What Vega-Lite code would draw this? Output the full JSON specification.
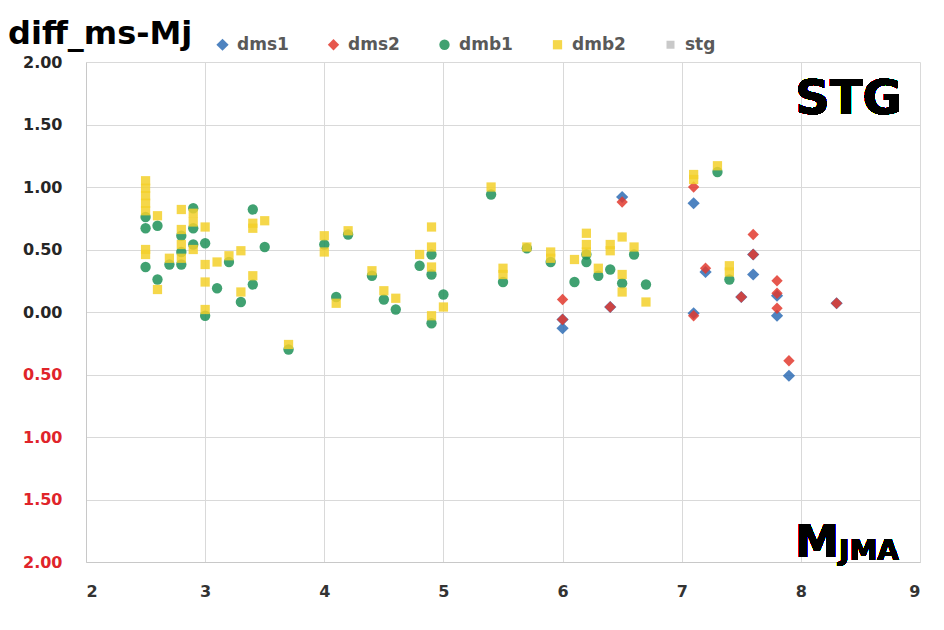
{
  "$schema": "https://vega.github.io/schema/vega-lite/v6.json",
  "width": 834,
  "height": 500,
  "autosize": "none",
  "padding": {"left": 86, "top": 62, "right": 24, "bottom": 68},
  "background": "#ffffff",
  "title": {
    "text": "diff_ms-Mj",
    "anchor": "start",
    "frame": "group",
    "font": "DejaVu Sans",
    "fontSize": 32,
    "fontWeight": "bold",
    "color": "#000000",
    "dx": -78,
    "dy": 33,
    "offset": 18
  },
  "config": {
    "view": {"stroke": null},
    "axis": {
      "gridColor": "#d9d9d9",
      "gridWidth": 1,
      "domainColor": "#c8c8c8",
      "ticks": false,
      "labelFont": "DejaVu Sans",
      "labelFontWeight": "bold",
      "labelFontSize": 15,
      "title": null
    }
  },
  "data": {
    "values": [
      {"series": "dms1", "M": 6.0, "diff": -0.06},
      {"series": "dms1", "M": 6.0, "diff": -0.13},
      {"series": "dms1", "M": 6.4, "diff": 0.04},
      {"series": "dms1", "M": 6.5, "diff": 0.92},
      {"series": "dms1", "M": 7.1, "diff": 0.87},
      {"series": "dms1", "M": 7.1, "diff": -0.01},
      {"series": "dms1", "M": 7.2, "diff": 0.32},
      {"series": "dms1", "M": 7.5, "diff": 0.12},
      {"series": "dms1", "M": 7.6, "diff": 0.46},
      {"series": "dms1", "M": 7.6, "diff": 0.3},
      {"series": "dms1", "M": 7.8, "diff": 0.13},
      {"series": "dms1", "M": 7.8, "diff": -0.03},
      {"series": "dms1", "M": 7.9, "diff": -0.51},
      {"series": "dms1", "M": 8.3, "diff": 0.07},

      {"series": "dms2", "M": 6.0, "diff": 0.1},
      {"series": "dms2", "M": 6.0, "diff": -0.06},
      {"series": "dms2", "M": 6.4, "diff": 0.04},
      {"series": "dms2", "M": 6.5, "diff": 0.88},
      {"series": "dms2", "M": 7.1, "diff": 1.0},
      {"series": "dms2", "M": 7.1, "diff": -0.03},
      {"series": "dms2", "M": 7.2, "diff": 0.35},
      {"series": "dms2", "M": 7.5, "diff": 0.12},
      {"series": "dms2", "M": 7.6, "diff": 0.62},
      {"series": "dms2", "M": 7.6, "diff": 0.46},
      {"series": "dms2", "M": 7.8, "diff": 0.25},
      {"series": "dms2", "M": 7.8, "diff": 0.15},
      {"series": "dms2", "M": 7.8, "diff": 0.03},
      {"series": "dms2", "M": 7.9, "diff": -0.39},
      {"series": "dms2", "M": 8.3, "diff": 0.07},

      {"series": "dmb1", "M": 2.5, "diff": 0.76},
      {"series": "dmb1", "M": 2.5, "diff": 0.67},
      {"series": "dmb1", "M": 2.5, "diff": 0.36},
      {"series": "dmb1", "M": 2.6, "diff": 0.69},
      {"series": "dmb1", "M": 2.6, "diff": 0.26},
      {"series": "dmb1", "M": 2.7, "diff": 0.38},
      {"series": "dmb1", "M": 2.8, "diff": 0.61},
      {"series": "dmb1", "M": 2.8, "diff": 0.48},
      {"series": "dmb1", "M": 2.8, "diff": 0.38},
      {"series": "dmb1", "M": 2.9, "diff": 0.83},
      {"series": "dmb1", "M": 2.9, "diff": 0.67},
      {"series": "dmb1", "M": 2.9, "diff": 0.54},
      {"series": "dmb1", "M": 3.0, "diff": 0.55},
      {"series": "dmb1", "M": 3.0, "diff": -0.03},
      {"series": "dmb1", "M": 3.1, "diff": 0.19},
      {"series": "dmb1", "M": 3.2, "diff": 0.4},
      {"series": "dmb1", "M": 3.3, "diff": 0.08},
      {"series": "dmb1", "M": 3.4, "diff": 0.82},
      {"series": "dmb1", "M": 3.4, "diff": 0.22},
      {"series": "dmb1", "M": 3.5, "diff": 0.52},
      {"series": "dmb1", "M": 3.7, "diff": -0.3},
      {"series": "dmb1", "M": 4.0, "diff": 0.54},
      {"series": "dmb1", "M": 4.1, "diff": 0.12},
      {"series": "dmb1", "M": 4.2, "diff": 0.62},
      {"series": "dmb1", "M": 4.4, "diff": 0.29},
      {"series": "dmb1", "M": 4.5, "diff": 0.1},
      {"series": "dmb1", "M": 4.6, "diff": 0.02},
      {"series": "dmb1", "M": 4.8, "diff": 0.37},
      {"series": "dmb1", "M": 4.9, "diff": 0.46},
      {"series": "dmb1", "M": 4.9, "diff": 0.3},
      {"series": "dmb1", "M": 4.9, "diff": -0.09},
      {"series": "dmb1", "M": 5.0, "diff": 0.14},
      {"series": "dmb1", "M": 5.4, "diff": 0.94},
      {"series": "dmb1", "M": 5.5, "diff": 0.24},
      {"series": "dmb1", "M": 5.7, "diff": 0.51},
      {"series": "dmb1", "M": 5.9, "diff": 0.4},
      {"series": "dmb1", "M": 6.1, "diff": 0.24},
      {"series": "dmb1", "M": 6.2, "diff": 0.46},
      {"series": "dmb1", "M": 6.2, "diff": 0.4},
      {"series": "dmb1", "M": 6.3, "diff": 0.29},
      {"series": "dmb1", "M": 6.4, "diff": 0.34},
      {"series": "dmb1", "M": 6.5, "diff": 0.23},
      {"series": "dmb1", "M": 6.6, "diff": 0.46},
      {"series": "dmb1", "M": 6.7, "diff": 0.22},
      {"series": "dmb1", "M": 7.3, "diff": 1.12},
      {"series": "dmb1", "M": 7.4, "diff": 0.26},

      {"series": "dmb2", "M": 2.5, "diff": 1.05},
      {"series": "dmb2", "M": 2.5, "diff": 0.99},
      {"series": "dmb2", "M": 2.5, "diff": 0.93},
      {"series": "dmb2", "M": 2.5, "diff": 0.87},
      {"series": "dmb2", "M": 2.5, "diff": 0.81},
      {"series": "dmb2", "M": 2.5, "diff": 0.5},
      {"series": "dmb2", "M": 2.5, "diff": 0.46},
      {"series": "dmb2", "M": 2.6, "diff": 0.77},
      {"series": "dmb2", "M": 2.6, "diff": 0.18},
      {"series": "dmb2", "M": 2.7, "diff": 0.43},
      {"series": "dmb2", "M": 2.8, "diff": 0.82},
      {"series": "dmb2", "M": 2.8, "diff": 0.66},
      {"series": "dmb2", "M": 2.8, "diff": 0.54},
      {"series": "dmb2", "M": 2.8, "diff": 0.43},
      {"series": "dmb2", "M": 2.9, "diff": 0.79},
      {"series": "dmb2", "M": 2.9, "diff": 0.72},
      {"series": "dmb2", "M": 2.9, "diff": 0.5},
      {"series": "dmb2", "M": 3.0, "diff": 0.68},
      {"series": "dmb2", "M": 3.0, "diff": 0.38},
      {"series": "dmb2", "M": 3.0, "diff": 0.24},
      {"series": "dmb2", "M": 3.0, "diff": 0.02},
      {"series": "dmb2", "M": 3.1, "diff": 0.4},
      {"series": "dmb2", "M": 3.2, "diff": 0.45},
      {"series": "dmb2", "M": 3.3, "diff": 0.49},
      {"series": "dmb2", "M": 3.3, "diff": 0.16},
      {"series": "dmb2", "M": 3.4, "diff": 0.71},
      {"series": "dmb2", "M": 3.4, "diff": 0.67},
      {"series": "dmb2", "M": 3.4, "diff": 0.29},
      {"series": "dmb2", "M": 3.5, "diff": 0.73},
      {"series": "dmb2", "M": 3.7, "diff": -0.26},
      {"series": "dmb2", "M": 4.0, "diff": 0.61},
      {"series": "dmb2", "M": 4.0, "diff": 0.48},
      {"series": "dmb2", "M": 4.1, "diff": 0.07},
      {"series": "dmb2", "M": 4.2, "diff": 0.65},
      {"series": "dmb2", "M": 4.4, "diff": 0.33},
      {"series": "dmb2", "M": 4.5, "diff": 0.17},
      {"series": "dmb2", "M": 4.6, "diff": 0.11},
      {"series": "dmb2", "M": 4.8, "diff": 0.46},
      {"series": "dmb2", "M": 4.9, "diff": 0.68},
      {"series": "dmb2", "M": 4.9, "diff": 0.52},
      {"series": "dmb2", "M": 4.9, "diff": 0.36},
      {"series": "dmb2", "M": 4.9, "diff": -0.03},
      {"series": "dmb2", "M": 5.0, "diff": 0.04},
      {"series": "dmb2", "M": 5.4, "diff": 1.0},
      {"series": "dmb2", "M": 5.5, "diff": 0.35},
      {"series": "dmb2", "M": 5.5, "diff": 0.3},
      {"series": "dmb2", "M": 5.7, "diff": 0.52},
      {"series": "dmb2", "M": 5.9, "diff": 0.48},
      {"series": "dmb2", "M": 5.9, "diff": 0.43},
      {"series": "dmb2", "M": 6.1, "diff": 0.42},
      {"series": "dmb2", "M": 6.2, "diff": 0.63},
      {"series": "dmb2", "M": 6.2, "diff": 0.54},
      {"series": "dmb2", "M": 6.2, "diff": 0.48},
      {"series": "dmb2", "M": 6.3, "diff": 0.35},
      {"series": "dmb2", "M": 6.4, "diff": 0.54},
      {"series": "dmb2", "M": 6.4, "diff": 0.49},
      {"series": "dmb2", "M": 6.5, "diff": 0.6},
      {"series": "dmb2", "M": 6.5, "diff": 0.3},
      {"series": "dmb2", "M": 6.5, "diff": 0.16},
      {"series": "dmb2", "M": 6.6, "diff": 0.52},
      {"series": "dmb2", "M": 6.7, "diff": 0.08},
      {"series": "dmb2", "M": 7.1, "diff": 1.1},
      {"series": "dmb2", "M": 7.1, "diff": 1.06},
      {"series": "dmb2", "M": 7.3, "diff": 1.17},
      {"series": "dmb2", "M": 7.4, "diff": 0.37},
      {"series": "dmb2", "M": 7.4, "diff": 0.32}
    ]
  },
  "layer": [
    {
      "mark": {"type": "point", "filled": true, "opacity": 0.85},
      "encoding": {
        "x": {
          "field": "M",
          "type": "quantitative",
          "scale": {"domain": [2, 9], "nice": false},
          "axis": {
            "values": [2, 3, 4, 5, 6, 7, 8, 9],
            "format": "d",
            "labelColor": "#333333",
            "labelPadding": 21,
            "labelFontSize": 16
          }
        },
        "y": {
          "field": "diff",
          "type": "quantitative",
          "scale": {"domain": [-2, 2], "nice": false},
          "axis": {
            "values": [-2, -1.5, -1, -0.5, 0, 0.5, 1, 1.5, 2],
            "labelExpr": "format(abs(datum.value), '.2f')",
            "labelColor": {"condition": {"test": "datum.value < 0", "value": "#e0242a"}, "value": "#262626"},
            "labelPadding": 24,
            "labelFontSize": 16
          }
        },
        "color": {
          "field": "series",
          "type": "nominal",
          "scale": {
            "domain": ["dms1", "dms2", "dmb1", "dmb2", "stg"],
            "range": ["#2f6db5", "#e23a2e", "#1f9158", "#f3d02a", "#bfbfbf"]
          },
          "legend": {
            "title": null,
            "orient": "none",
            "direction": "horizontal",
            "legendX": 128,
            "legendY": -26,
            "columns": 5,
            "columnPadding": 36,
            "symbolSize": 45,
            "symbolOffset": 0,
            "labelFont": "DejaVu Sans",
            "labelFontWeight": "bold",
            "labelFontSize": 17,
            "labelColor": "#595959",
            "labelOffset": 6
          }
        },
        "shape": {
          "field": "series",
          "type": "nominal",
          "scale": {
            "domain": ["dms1", "dms2", "dmb1", "dmb2", "stg"],
            "range": ["diamond", "diamond", "circle", "square", "square"]
          }
        },
        "size": {
          "field": "series",
          "type": "nominal",
          "scale": {
            "domain": ["dms1", "dms2", "dmb1", "dmb2", "stg"],
            "range": [150, 64, 90, 90, 30]
          },
          "legend": null
        }
      }
    },
    {
      "mark": {"type": "text", "text": "STG", "font": "DejaVu Sans", "fontWeight": "bold", "fontSize": 48, "align": "center", "baseline": "middle", "color": "#000000"},
      "encoding": {
        "x": {"datum": 8.4, "type": "quantitative"},
        "y": {"datum": 1.7, "type": "quantitative"}
      }
    },
    {
      "mark": {"type": "text", "text": "M", "font": "DejaVu Sans", "fontWeight": "bold", "fontSize": 44, "align": "left", "baseline": "alphabetic", "color": "#000000"},
      "encoding": {
        "x": {"datum": 7.95, "type": "quantitative"},
        "y": {"datum": -1.96, "type": "quantitative"}
      }
    },
    {
      "mark": {"type": "text", "text": "JMA", "font": "DejaVu Sans", "fontWeight": "bold", "fontSize": 28, "align": "left", "baseline": "alphabetic", "color": "#000000"},
      "encoding": {
        "x": {"datum": 8.32, "type": "quantitative"},
        "y": {"datum": -1.985, "type": "quantitative"}
      }
    }
  ]
}
